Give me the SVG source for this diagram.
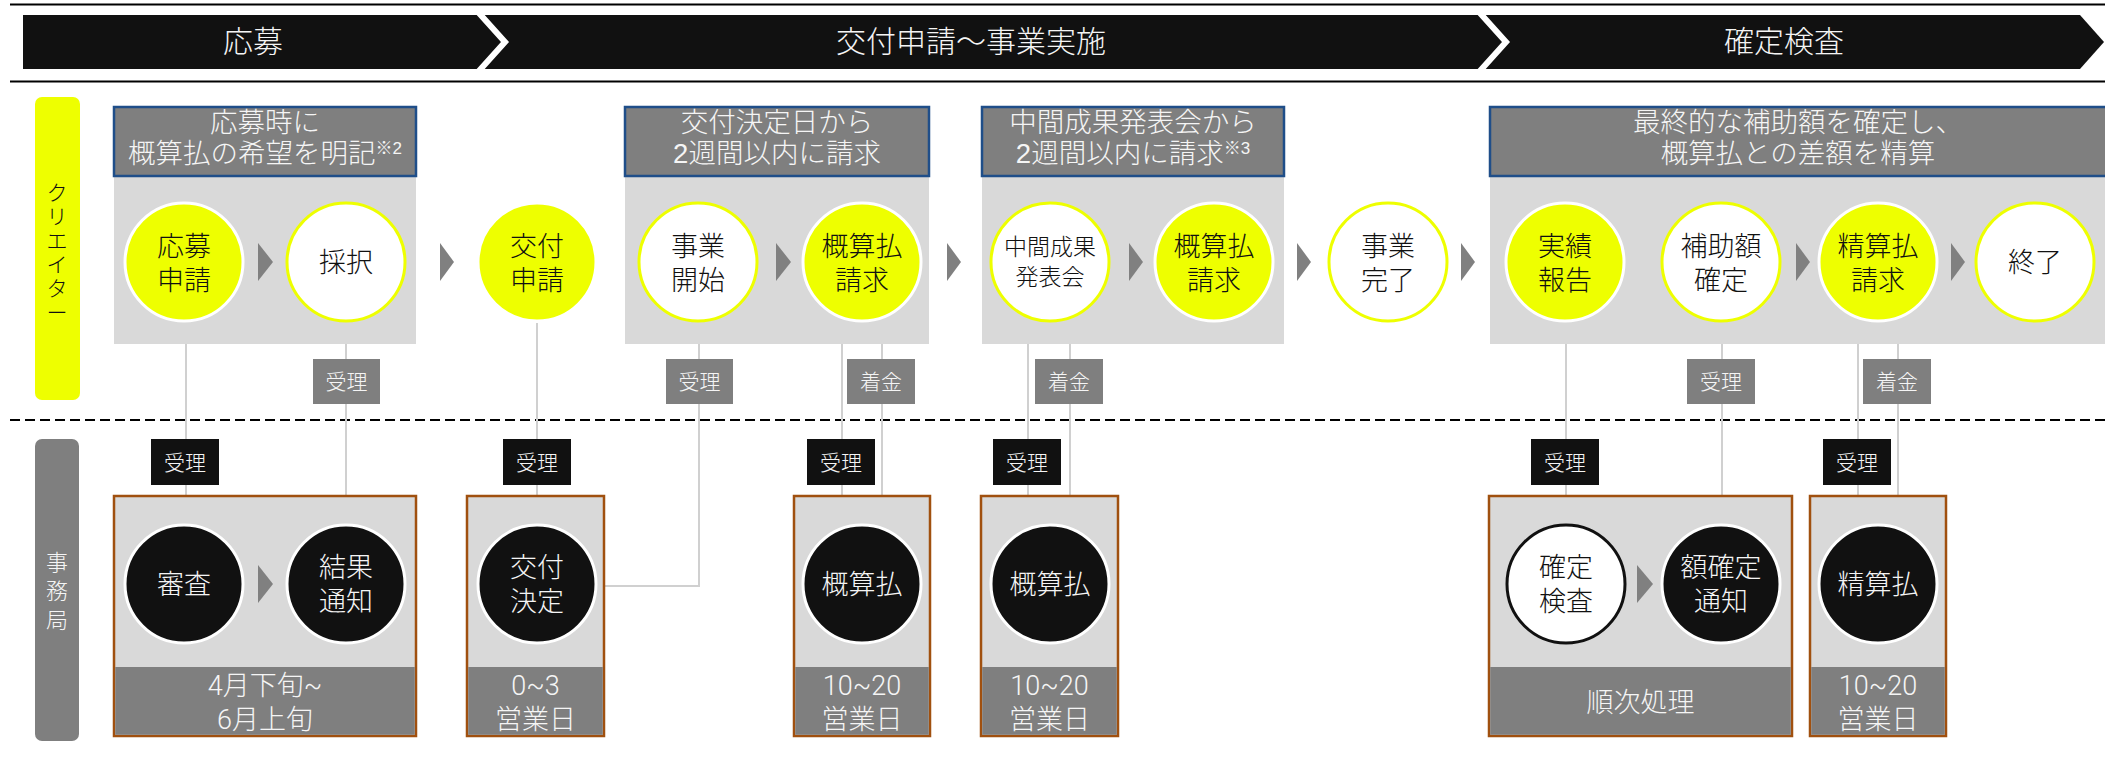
<svg xmlns="http://www.w3.org/2000/svg" width="2105" height="759" viewBox="0 0 2105 759">
<style>
text{font-family:"Liberation Sans","Noto Sans CJK JP",sans-serif;font-weight:300;text-anchor:middle}
.ph{font-size:30px;fill:#F5F5F5}
.hd{fill:#7F7F7F;stroke:#1F4E89;stroke-width:2.5}
.hdt{font-size:27.5px;fill:#F5F5F5}
.sup{font-size:17px}
.area{fill:#D9D9D9}
.cy{fill:#EEFF00;stroke:#FFFFFF;stroke-width:3}
.cw{fill:#FFFFFF;stroke:#EEFF00;stroke-width:3}
.cb{fill:#111111;stroke:#FFFFFF;stroke-width:3}
.cwk{fill:#FFFFFF;stroke:#111111;stroke-width:3}
.ct{font-size:27px;fill:#111111}
.ctw{font-size:27px;fill:#F5F5F5}
.cts{font-size:23px;fill:#111111}
.tri{fill:#808080}
.lg{fill:#7F7F7F}
.lb{fill:#111111}
.lt{font-size:21px;fill:#F5F5F5}
.box{fill:#D9D9D9;stroke:#A0500F;stroke-width:2.5}
.foot{fill:#7F7F7F}
.ft{font-family:Roboto,"Noto Sans CJK JP",sans-serif;font-weight:300;font-size:27px;fill:#F5F5F5}
.conn{stroke:#D0D0D0;stroke-width:2;fill:none}
</style>
<rect width="2105" height="759" fill="#FFFFFF"/>

<!-- phase bar -->
<g id="phases">
  <line x1="10" y1="4.5" x2="2105" y2="4.5" stroke="#000" stroke-width="2"/>
  <line x1="10" y1="81.5" x2="2105" y2="81.5" stroke="#000" stroke-width="2"/>
  <polygon points="23,15 2080,15 2104,42 2080,69 23,69" fill="#111111"/>
  <polyline points="478,12 505,42 478,72" fill="none" stroke="#FFFFFF" stroke-width="6"/>
  <polyline points="1479,12 1506,42 1479,72" fill="none" stroke="#FFFFFF" stroke-width="6"/>
  <text class="ph" x="253" y="52">応募</text>
  <text class="ph" x="971" y="52">交付申請〜事業実施</text>
  <text class="ph" x="1784" y="52">確定検査</text>
</g>

<!-- lanes -->
<g id="lane-creator">
  <rect x="35" y="97" width="45" height="303" rx="7" fill="#EEFF00"/>
  <text font-size="21" fill="#111"><tspan x="57" y="200">ク</tspan><tspan x="57" dy="24">リ</tspan><tspan x="57" dy="24">エ</tspan><tspan x="57" dy="24">イ</tspan><tspan x="57" dy="24">タ</tspan><tspan x="57" dy="24">ー</tspan></text>
</g>
<line x1="10" y1="420" x2="2105" y2="420" stroke="#000" stroke-width="2" stroke-dasharray="10,5"/>
<g id="lane-office">
  <rect x="35" y="439" width="44" height="302" rx="7" fill="#7F7F7F"/>
  <text font-size="22" fill="#F5F5F5"><tspan x="57" y="570">事</tspan><tspan x="57" dy="29">務</tspan><tspan x="57" dy="29">局</tspan></text>
</g>

<!-- connectors -->
<g id="connectors">
  <line class="conn" x1="186" y1="323" x2="186" y2="524"/>
  <line class="conn" x1="346" y1="323" x2="346" y2="524"/>
  <line class="conn" x1="537" y1="323" x2="537" y2="524"/>
  <polyline class="conn" points="699,323 699,586 597,586"/>
  <line class="conn" x1="842" y1="323" x2="842" y2="524"/>
  <line class="conn" x1="882" y1="323" x2="882" y2="524"/>
  <line class="conn" x1="1028" y1="323" x2="1028" y2="524"/>
  <line class="conn" x1="1070" y1="323" x2="1070" y2="524"/>
  <line class="conn" x1="1566" y1="323" x2="1566" y2="524"/>
  <line class="conn" x1="1722" y1="323" x2="1722" y2="524"/>
  <line class="conn" x1="1858" y1="323" x2="1858" y2="524"/>
  <line class="conn" x1="1898" y1="323" x2="1898" y2="524"/>
</g>

<!-- upper groups -->
<g id="group-apply">
  <rect class="area" x="114" y="176" width="302" height="168"/>
  <rect class="hd" x="114" y="107" width="302" height="69"/>
  <text class="hdt"><tspan x="265" y="132">応募時に</tspan><tspan x="265" dy="31">概算払の希望を明記</tspan><tspan class="sup" dy="-9">※2</tspan></text>
</g>
<g id="group-start">
  <rect class="area" x="625" y="176" width="304" height="168"/>
  <rect class="hd" x="625" y="107" width="304" height="69"/>
  <text class="hdt"><tspan x="777" y="132">交付決定日から</tspan><tspan x="777" dy="31">2週間以内に請求</tspan></text>
</g>
<g id="group-mid">
  <rect class="area" x="982" y="176" width="302" height="168"/>
  <rect class="hd" x="982" y="107" width="302" height="69"/>
  <text class="hdt"><tspan x="1133" y="132">中間成果発表会から</tspan><tspan x="1133" dy="31">2週間以内に請求</tspan><tspan class="sup" dy="-9">※3</tspan></text>
</g>
<g id="group-final">
  <rect class="area" x="1490" y="176" width="620" height="168"/>
  <rect class="hd" x="1490" y="107" width="620" height="69"/>
  <text class="hdt"><tspan x="1798" y="132">最終的な補助額を確定し、</tspan><tspan x="1798" dy="31">概算払との差額を精算</tspan></text>
</g>

<!-- upper triangles -->
<g id="arrows-upper">
  <polygon class="tri" points="258,243 273,262 258,281"/>
  <polygon class="tri" points="440,243 454,262 440,281"/>
  <polygon class="tri" points="776,243 791,262 776,281"/>
  <polygon class="tri" points="947,243 961,262 947,281"/>
  <polygon class="tri" points="1129,243 1143,262 1129,281"/>
  <polygon class="tri" points="1297,243 1311,262 1297,281"/>
  <polygon class="tri" points="1461,243 1475,262 1461,281"/>
  <polygon class="tri" points="1796,243 1810,262 1796,281"/>
  <polygon class="tri" points="1951,243 1965,262 1951,281"/>
</g>

<!-- upper nodes -->
<g id="n-oubo-shinsei"><circle class="cy" cx="184" cy="262" r="59"/><text class="ct"><tspan x="184" y="256">応募</tspan><tspan x="184" dy="34">申請</tspan></text></g>
<g id="n-saitaku"><circle class="cw" cx="346" cy="262" r="59"/><text class="ct" x="346" y="272">採択</text></g>
<g id="n-koufu-shinsei"><circle class="cy" cx="537" cy="262" r="59"/><text class="ct"><tspan x="537" y="256">交付</tspan><tspan x="537" dy="34">申請</tspan></text></g>
<g id="n-jigyo-kaishi"><circle class="cw" cx="698" cy="262" r="59"/><text class="ct"><tspan x="698" y="256">事業</tspan><tspan x="698" dy="34">開始</tspan></text></g>
<g id="n-gaisan-seikyu1"><circle class="cy" cx="862" cy="262" r="59"/><text class="ct"><tspan x="862" y="256">概算払</tspan><tspan x="862" dy="34">請求</tspan></text></g>
<g id="n-chukan"><circle class="cw" cx="1050" cy="262" r="59"/><text class="cts"><tspan x="1050" y="255">中間成果</tspan><tspan x="1050" dy="30">発表会</tspan></text></g>
<g id="n-gaisan-seikyu2"><circle class="cy" cx="1214" cy="262" r="59"/><text class="ct"><tspan x="1214" y="256">概算払</tspan><tspan x="1214" dy="34">請求</tspan></text></g>
<g id="n-jigyo-kanryo"><circle class="cw" cx="1388" cy="262" r="59"/><text class="ct"><tspan x="1388" y="256">事業</tspan><tspan x="1388" dy="34">完了</tspan></text></g>
<g id="n-jisseki"><circle class="cy" cx="1565" cy="262" r="59"/><text class="ct"><tspan x="1565" y="256">実績</tspan><tspan x="1565" dy="34">報告</tspan></text></g>
<g id="n-hojogaku"><circle class="cw" cx="1721" cy="262" r="59"/><text class="ct"><tspan x="1721" y="256">補助額</tspan><tspan x="1721" dy="34">確定</tspan></text></g>
<g id="n-seisan-seikyu"><circle class="cy" cx="1878" cy="262" r="59"/><text class="ct"><tspan x="1878" y="256">精算払</tspan><tspan x="1878" dy="34">請求</tspan></text></g>
<g id="n-shuryo"><circle class="cw" cx="2035" cy="262" r="59"/><text class="ct" x="2035" y="272">終了</text></g>

<!-- labels on connectors -->
<g id="labels">
  <g id="l-juri-1"><rect class="lg" x="313" y="359" width="67" height="45"/><text class="lt" x="346.5" y="389">受理</text></g>
  <g id="l-juri-2"><rect class="lg" x="666" y="359" width="67" height="45"/><text class="lt" x="699.5" y="389">受理</text></g>
  <g id="l-chakkin-1"><rect class="lg" x="847" y="359" width="68" height="45"/><text class="lt" x="881" y="389">着金</text></g>
  <g id="l-chakkin-2"><rect class="lg" x="1035" y="359" width="68" height="45"/><text class="lt" x="1069" y="389">着金</text></g>
  <g id="l-juri-3"><rect class="lg" x="1687" y="359" width="68" height="45"/><text class="lt" x="1721" y="389">受理</text></g>
  <g id="l-chakkin-3"><rect class="lg" x="1863" y="359" width="68" height="45"/><text class="lt" x="1897" y="389">着金</text></g>
  <g id="l-juri-b1"><rect class="lb" x="151" y="439" width="68" height="46"/><text class="lt" x="185" y="470">受理</text></g>
  <g id="l-juri-b2"><rect class="lb" x="503" y="439" width="68" height="46"/><text class="lt" x="537" y="470">受理</text></g>
  <g id="l-juri-b3"><rect class="lb" x="807" y="439" width="68" height="46"/><text class="lt" x="841" y="470">受理</text></g>
  <g id="l-juri-b4"><rect class="lb" x="993" y="439" width="68" height="46"/><text class="lt" x="1027" y="470">受理</text></g>
  <g id="l-juri-b5"><rect class="lb" x="1531" y="439" width="68" height="46"/><text class="lt" x="1565" y="470">受理</text></g>
  <g id="l-juri-b6"><rect class="lb" x="1823" y="439" width="68" height="46"/><text class="lt" x="1857" y="470">受理</text></g>
</g>

<!-- lower boxes -->
<g id="box-shinsa">
  <rect class="box" x="114" y="496" width="302" height="240"/>
  <rect class="foot" x="115.25" y="667" width="299.5" height="67.75"/>
  <text class="ft"><tspan x="265" y="695">4月下旬~</tspan><tspan x="265" dy="34">6月上旬</tspan></text>
</g>
<g id="box-koufu">
  <rect class="box" x="467" y="496" width="137" height="240"/>
  <rect class="foot" x="468.25" y="667" width="134.5" height="67.75"/>
  <text class="ft"><tspan x="535.5" y="695">0~3</tspan><tspan x="535.5" dy="34">営業日</tspan></text>
</g>
<g id="box-gaisan1">
  <rect class="box" x="794" y="496" width="136" height="240"/>
  <rect class="foot" x="795.25" y="667" width="133.5" height="67.75"/>
  <text class="ft"><tspan x="862" y="695">10~20</tspan><tspan x="862" dy="34">営業日</tspan></text>
</g>
<g id="box-gaisan2">
  <rect class="box" x="981" y="496" width="137" height="240"/>
  <rect class="foot" x="982.25" y="667" width="134.5" height="67.75"/>
  <text class="ft"><tspan x="1049.5" y="695">10~20</tspan><tspan x="1049.5" dy="34">営業日</tspan></text>
</g>
<g id="box-kakutei">
  <rect class="box" x="1489" y="496" width="303" height="240"/>
  <rect class="foot" x="1490.25" y="667" width="300.5" height="67.75"/>
  <text class="ft" x="1640.5" y="712">順次処理</text>
</g>
<g id="box-seisan">
  <rect class="box" x="1810" y="496" width="136" height="240"/>
  <rect class="foot" x="1811.25" y="667" width="133.5" height="67.75"/>
  <text class="ft"><tspan x="1878" y="695">10~20</tspan><tspan x="1878" dy="34">営業日</tspan></text>
</g>

<g id="arrows-lower">
  <polygon class="tri" points="258,565 273,584 258,603"/>
  <polygon class="tri" points="1637,565 1653,584 1637,603"/>
</g>

<!-- lower nodes -->
<g id="n-shinsa"><circle class="cb" cx="184" cy="584" r="59"/><text class="ctw" x="184" y="594">審査</text></g>
<g id="n-kekka"><circle class="cb" cx="346" cy="584" r="59"/><text class="ctw"><tspan x="346" y="577">結果</tspan><tspan x="346" dy="34">通知</tspan></text></g>
<g id="n-koufu-kettei"><circle class="cb" cx="537" cy="584" r="59"/><text class="ctw"><tspan x="537" y="577">交付</tspan><tspan x="537" dy="34">決定</tspan></text></g>
<g id="n-gaisan1"><circle class="cb" cx="862" cy="584" r="59"/><text class="ctw" x="862" y="594">概算払</text></g>
<g id="n-gaisan2"><circle class="cb" cx="1050" cy="584" r="59"/><text class="ctw" x="1050" y="594">概算払</text></g>
<g id="n-kakutei-kensa"><circle class="cwk" cx="1566" cy="584" r="59"/><text class="ct"><tspan x="1566" y="577">確定</tspan><tspan x="1566" dy="34">検査</tspan></text></g>
<g id="n-gaku-kakutei"><circle class="cb" cx="1721" cy="584" r="59"/><text class="ctw"><tspan x="1721" y="577">額確定</tspan><tspan x="1721" dy="34">通知</tspan></text></g>
<g id="n-seisan"><circle class="cb" cx="1878" cy="584" r="59"/><text class="ctw" x="1878" y="594">精算払</text></g>
</svg>
